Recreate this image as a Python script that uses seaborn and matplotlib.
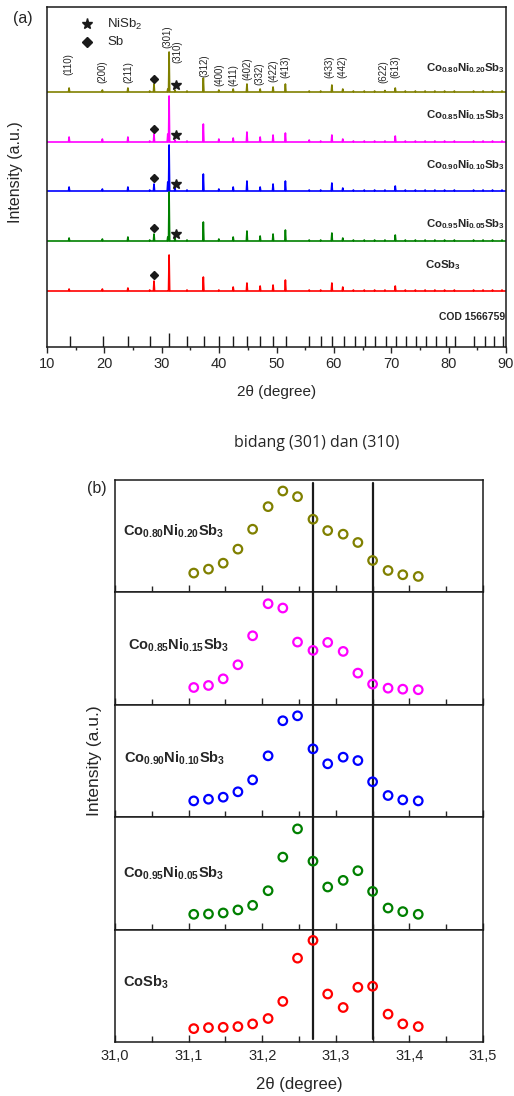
import numpy as np
import pandas as pd
import matplotlib
matplotlib.use("Agg")
import matplotlib.pyplot as plt
import seaborn as sns

# ---------------- data: panel (a) XRD patterns (peak list) ----------------
peak_pos = [13.85, 19.65, 24.1, 27.9, 28.65, 31.05, 31.28, 32.3, 34.4, 37.25, 39.95, 42.45,
            44.85, 47.15, 49.4, 51.55, 55.7, 57.7, 59.65, 61.55, 63.4, 65.3, 67.1, 68.9,
            70.7, 72.45, 74.2, 75.9, 77.6, 79.3, 81.0, 84.35, 86.0, 87.65, 89.3]
int_080 = [4, 2, 4, 1, 8, 3, 40, 2, 1, 14, 2, 3, 8, 3, 5, 8, 1, 1, 7, 3, 1, 1, 1, 1.5,
           4, 1, 1, 1, 1, 1, 1, 1, 1, 1, 1]
int_085 = [5, 3, 5, 1, 8, 8, 46, 2, 1, 18, 3, 4, 10, 5, 7, 9, 2, 1, 7, 3, 1, 1, 1, 1,
           6, 1, 1, 1, 1, 1, 1, 1, 1, 1, 1]
int_090 = [4, 2, 4, 1, 7, 9, 46, 3, 1, 17, 2, 4, 10, 4, 7, 10, 1, 1, 8, 3, 1, 1, 1, 1,
           5, 1, 1, 1, 1, 1, 1, 1, 1, 1, 1]
int_095 = [3, 2, 4, 1, 7, 4, 49, 3, 1, 19, 2, 4, 10, 5, 7, 11, 1, 1, 8, 3, 1, 1, 1, 1,
           6, 1, 1, 1, 1, 1, 1, 1, 1, 1, 1]
int_000 = [2, 2, 3, 1, 10, 0, 36, 0, 1, 14, 1, 4, 8, 5, 6, 11, 1, 1, 8, 4, 1, 1, 1, 1,
           5, 1, 1, 1, 1, 1, 1, 1, 1, 1, 1]

sample_tex = [r"$\mathbf{Co_{0.80}Ni_{0.20}Sb_{3}}$", r"$\mathbf{Co_{0.85}Ni_{0.15}Sb_{3}}$",
              r"$\mathbf{Co_{0.90}Ni_{0.10}Sb_{3}}$", r"$\mathbf{Co_{0.95}Ni_{0.05}Sb_{3}}$",
              r"$\mathbf{CoSb_{3}}$"]
colors = ["#808000", "#ff00ff", "#0000ff", "#008000", "#ff0000"]

# COD 1566759 reference lines
cod_pos = [13.95, 19.7, 24.05, 27.9, 31.25, 34.4, 37.3, 39.96, 42.5, 44.9, 47.2, 49.4, 51.7,
           55.75, 57.8, 59.7, 61.7, 63.7, 65.4, 67.25, 69.0, 70.8, 72.5, 74.3, 76.0, 77.8,
           79.55, 81.1, 84.5, 86.3, 87.9, 89.5]
cod_int = [11, 11, 11, 11, 14, 11, 11, 11, 11, 11, 11, 11, 11, 11, 11, 11, 11, 11, 11, 11,
           11, 11, 11, 11, 11, 11, 11, 11, 11, 11, 11, 11]

hkl_labels = ["(110)", "(200)", "(211)", "(301)", "(310)", "(312)", "(400)", "(411)", "(402)",
              "(332)", "(422)", "(413)", "(433)", "(442)", "(622)", "(613)"]
hkl_pos = [13.7, 19.6, 24.1, 30.9, 32.8, 37.4, 40.0, 42.4, 44.9, 47.1, 49.4, 51.5, 59.3,
           61.4, 68.6, 70.7]

# ---------------- data: panel (b) (301)/(310) region ----------------
x_b = [31.107, 31.127, 31.147, 31.167, 31.187, 31.208, 31.228, 31.248, 31.269, 31.289,
       31.310, 31.330, 31.350, 31.371, 31.391, 31.412]
b_080 = [0.172, 0.207, 0.26, 0.385, 0.562, 0.763, 0.902, 0.852, 0.651, 0.550, 0.518, 0.444,
         0.284, 0.195, 0.157, 0.142]
b_085 = [0.154, 0.172, 0.231, 0.356, 0.614, 0.899, 0.861, 0.558, 0.484, 0.555, 0.475, 0.282,
         0.184, 0.148, 0.139, 0.134]
b_090 = [0.145, 0.16, 0.178, 0.226, 0.332, 0.546, 0.858, 0.902, 0.608, 0.475, 0.534, 0.504,
         0.315, 0.193, 0.154, 0.145]
b_095 = [0.136, 0.139, 0.148, 0.175, 0.216, 0.346, 0.645, 0.896, 0.609, 0.379, 0.438, 0.524,
         0.34, 0.192, 0.16, 0.136]
b_000 = [0.119, 0.128, 0.131, 0.137, 0.161, 0.209, 0.361, 0.746, 0.904, 0.427, 0.307, 0.487,
         0.496, 0.248, 0.161, 0.137]
ref_lines = [31.269, 31.351]
xticks_b = [31.0, 31.1, 31.2, 31.3, 31.4, 31.5]
xticklabels_b = ["31,0", "31,1", "31,2", "31,3", "31,4", "31,5"]

# ---------------- style ----------------
sns.set_theme(style="ticks")
plt.rcParams["font.family"] = ["Liberation Sans", "DejaVu Sans"]
plt.rcParams["mathtext.fontset"] = "custom"
plt.rcParams["mathtext.rm"] = "Liberation Sans"
plt.rcParams["mathtext.it"] = "Liberation Sans:italic"
plt.rcParams["mathtext.bf"] = "Liberation Sans:bold"

W, H = 514, 1096
fig = plt.figure(figsize=(W / 100, H / 100), dpi=100)


def fx(px):
    return px / W


def fy(py):
    return 1 - py / H


# ================= panel (a) =================
axa = fig.add_axes([fx(47), fy(347), fx(506) - fx(47), fy(7) - fy(347)])
offsets = [255, 205, 156, 106, 56]
all_int = [int_080, int_085, int_090, int_095, int_000]
w = 0.1
for inten, off, col in zip(all_int, offsets, colors):
    xs, ys = [10.0], [off]
    for p, h in zip(peak_pos, inten):
        xs += [p - w, p, p + w]
        ys += [off, off + h, off]
    xs.append(90.0)
    ys.append(off)
    sns.lineplot(x=xs, y=ys, ax=axa, sort=False, estimator=None, color=col, lw=1.2)

# phase markers
for k, (off, col) in enumerate(zip(offsets, colors)):
    dh = 16 if k == 4 else 13
    axa.plot([28.6], [off + dh], marker="D", color="k", ms=4.5, ls="none")
    if k < 4:
        axa.plot([32.4], [off + 7], marker="*", color="k", ms=7, ls="none")

# COD sticks
axa.vlines(cod_pos, 0, cod_int, color="k", lw=1.0)

# hkl labels
hkl_bottom = [272, 264, 264, 299, 284, 270, 261, 261, 267, 262, 265, 269, 269, 269, 264, 269]
for lab, p, yb in zip(hkl_labels, hkl_pos, hkl_bottom):
    axa.text(p, yb, lab, rotation=90, ha="center", va="bottom", fontsize=7)

# sample labels
lab_y = [279, 232, 182, 123]
for t, yy in zip(sample_tex[:4], lab_y):
    axa.text(89.8, yy, t, ha="right", va="center", fontsize=8.2)
axa.text(79.0, 82, sample_tex[4], ha="center", va="center", fontsize=8.2)
axa.text(89.8, 30, "COD 1566759", ha="right", va="center", fontsize=7.5, fontweight="bold")

# legend
axa.plot([0.087], [0.95], marker="*", color="k", ms=8, ls="none", transform=axa.transAxes)
axa.plot([0.088], [0.897], marker="D", color="k", ms=5, ls="none", transform=axa.transAxes)
axa.text(0.131, 0.95, "NiSb$_2$", transform=axa.transAxes, va="center", fontsize=9.5)
axa.text(0.131, 0.897, "Sb", transform=axa.transAxes, va="center", fontsize=9.5)

axa.set_xlim(10, 90)
axa.set_ylim(0, 340)
axa.set_xticks(range(10, 91, 10))
axa.set_xticks(range(15, 90, 10), minor=True)
axa.set_yticks([])
axa.tick_params(axis="x", which="major", direction="out", length=4, width=1, labelsize=10.5, pad=3.5)
axa.tick_params(axis="x", which="minor", direction="out", length=2.5, width=1)
for s in axa.spines.values():
    s.set_linewidth(1.1)
    s.set_color("k")
axa.set_xlabel("")
axa.set_ylabel("")
fig.text(fx(277), fy(392), "2θ (degree)", ha="center", va="center", fontsize=11)
fig.text(fx(16), fy(172), "Intensity (a.u.)", ha="center", va="center", rotation=90, fontsize=11.5)
fig.text(fx(23), fy(19), "(a)", ha="center", va="center", fontsize=11.5)

fig.text(fx(317), fy(443), "bidang (301) dan (310)", ha="center", va="center",
         fontsize=11.5, family=["Open Sans", "DejaVu Sans"])

# ================= panel (b) =================
top_b, bot_b = 480, 1042
hsub = (bot_b - top_b) / 5
all_b = [b_080, b_085, b_090, b_095, b_000]
lab_pos = [(0.022, 0.546), (0.035, 0.532), (0.024, 0.526), (0.022, 0.503), (0.022, 0.534)]
for k in range(5):
    t = top_b + k * hsub
    axb = fig.add_axes([fx(115), fy(t + hsub), fx(483) - fx(115), hsub / H])
    sns.scatterplot(x=x_b, y=all_b[k], ax=axb, marker="o", s=38, facecolor="none",
                    edgecolor=colors[k], linewidth=1.6, zorder=3)
    ymin = 0.03 if k == 4 else 0
    ymax = 0.97 if k == 0 else 1
    for xl in ref_lines:
        axb.axvline(xl, ymin=ymin, ymax=ymax, color="k", lw=1.6, zorder=2)
    axb.set_xlim(31.0, 31.5)
    axb.set_ylim(0, 1)
    axb.set_yticks([])
    axb.set_xticks(xticks_b)
    axb.set_xticks([31.05, 31.15, 31.25, 31.35, 31.45], minor=True)
    axb.tick_params(axis="x", which="major", direction="in", length=5, width=1, pad=5,
                    labelsize=10.5, labelbottom=(k == 4))
    axb.tick_params(axis="x", which="minor", direction="in", length=4, width=1)
    if k == 4:
        axb.set_xticklabels(xticklabels_b)
    for s in axb.spines.values():
        s.set_linewidth(1.1)
        s.set_color("k")
    axb.set_xlabel("")
    axb.set_ylabel("")
    axb.text(lab_pos[k][0], lab_pos[k][1], sample_tex[k], transform=axb.transAxes,
             ha="left", va="center", fontsize=10.5)

fig.text(fx(299), fy(1085), "2θ (degree)", ha="center", va="center", fontsize=12)
fig.text(fx(94), fy(761), "Intensity (a.u.)", ha="center", va="center", rotation=90, fontsize=12.5)
fig.text(fx(97), fy(489), "(b)", ha="center", va="center", fontsize=11.5)

fig.savefig("out.png", dpi=100)
